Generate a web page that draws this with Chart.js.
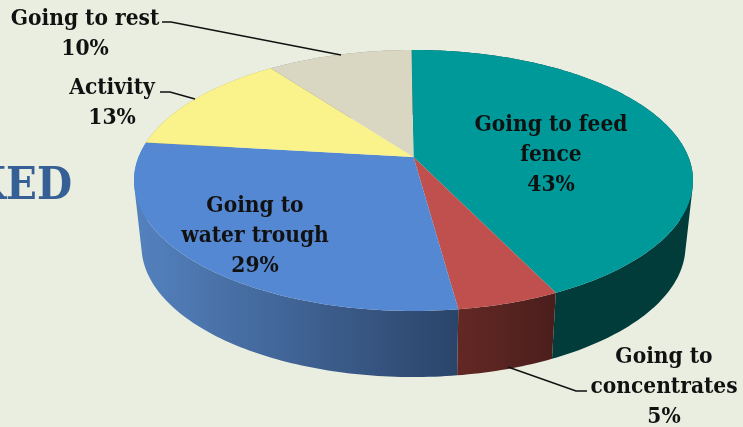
<!DOCTYPE html>
<html>
<head>
<meta charset="utf-8">
<title>Time budget pie</title>
<script src="https://cdn.jsdelivr.net/npm/chart.js@4"></script>
<style>
    html, body { margin: 0; padding: 0; background: #e9eee0; overflow: hidden; }
    canvas { display: block; }
</style>
</head>
<body>
<canvas id="budgetChart" width="743" height="427"></canvas>
<script>
const categories = ['Going to feed fence', 'Going to concentrates', 'Going to water trough', 'Activity', 'Going to rest'];
const shares = [43, 5, 29, 13, 10];
const topColors = ['#009999', '#bf504d', '#5588d2', '#faf28a', '#d9d6c2'];
const wallColors = [['#023c3b', '#013b3a'], ['#642824', '#4a1e1c'], ['#5482bf', '#2b4469'], ['#a8a25c', '#a8a25c'], ['#8f8d7f', '#8f8d7f']];

// Text blocks around the pie: wrapped name lines, centre x and the first baseline
const labelLines = [['Going to feed', 'fence'], ['Going to', 'concentrates'], ['Going to', 'water trough'], ['Activity'], ['Going to rest']];
const labelAnchors = [[551, 131], [664, 363], [255, 212], [112, 94], [85, 25]];
const leaders = [null, [[508, 367], [576, 391], [587, 391]], null, [[160, 92], [170, 92], [195, 99]], [[162, 22], [171, 22], [341, 55]]];

const labelFont = 'bold 22.5px "DejaVu Serif Condensed", "DejaVu Serif", serif';
const lineStep = 30;

// Tilted disc: ellipse radii relative to the chart radius, apex pulled toward the back
const tilt = -0.18;
const topScaleX = 1.5485, topScaleY = 0.723;
const baseScaleX = 1.507, baseScaleY = 0.726, baseDrop = 65.5;
const curveStep = Math.PI / 180;

// Perspective map of a point on the unit disc; the rim stays on the rim
function project(ux, uy) {
    const w = 1 + tilt * uy;
    return [ux * Math.sqrt(1 - tilt * tilt) / w, (uy + tilt) / w];
}

function rimPoint(arc, angle, scaleX, scaleY, drop) {
    const p = project(Math.cos(angle), Math.sin(angle));
    return [arc.x + arc.outerRadius * scaleX * p[0], arc.y + drop + arc.outerRadius * scaleY * p[1]];
}

function sweep(start, end) {
    const list = [];
    for (let a = start; a < end; a += curveStep) list.push(a);
    list.push(end);
    return list;
}

// Adds a quad to the current path, always wound the same way so overlaps don't cancel
function addQuad(ctx, quad) {
    let area = 0;
    quad.forEach((p, k) => {
        const q = quad[(k + 1) % 4];
        area += p[0] * q[1] - q[0] * p[1];
    });
    const pts = area < 0 ? quad.slice().reverse() : quad;
    ctx.moveTo(pts[0][0], pts[0][1]);
    pts.slice(1).forEach(p => ctx.lineTo(p[0], p[1]));
    ctx.closePath();
}

const tiltedPie = {
    id: 'tiltedPie',
    beforeDatasetDraw(chart) {
        const ctx = chart.ctx;
        const arcs = chart.getDatasetMeta(0).data.map(el => el.getProps(['x', 'y', 'startAngle', 'endAngle', 'outerRadius'], true));

        // side walls first, the top faces cover whatever sits behind them
        arcs.forEach((arc, i) => {
            const angles = sweep(arc.startAngle, arc.endAngle);
            const top = angles.map(a => rimPoint(arc, a, topScaleX, topScaleY, 0));
            const base = angles.map(a => rimPoint(arc, a, baseScaleX, baseScaleY, baseDrop));
            const xs = top.concat(base).map(p => p[0]);
            const grad = ctx.createLinearGradient(Math.min(...xs), 0, Math.max(...xs), 0);
            grad.addColorStop(0, wallColors[i][0]);
            grad.addColorStop(1, wallColors[i][1]);
            ctx.fillStyle = grad;
            // all quads in one path: the silhouette follows the widest rim points, no seams
            ctx.beginPath();
            for (let k = 0; k < angles.length - 1; k++) {
                addQuad(ctx, [top[k], top[k + 1], base[k + 1], base[k]]);
            }
            ctx.fill();
        });

        arcs.forEach((arc, i) => {
            const apex = project(0, 0);
            ctx.fillStyle = topColors[i];
            ctx.beginPath();
            ctx.moveTo(arc.x + arc.outerRadius * topScaleX * apex[0], arc.y + arc.outerRadius * topScaleY * apex[1]);
            sweep(arc.startAngle, arc.endAngle).forEach(a => {
                const p = rimPoint(arc, a, topScaleX, topScaleY, 0);
                ctx.lineTo(p[0], p[1]);
            });
            ctx.closePath();
            ctx.fill();
        });
        return false;
    },
    afterDraw(chart) {
        const ctx = chart.ctx;
        ctx.save();

        // slide heading running off the left edge
        ctx.fillStyle = '#355f95';
        ctx.font = 'bold 45px "DejaVu Serif Condensed", "DejaVu Serif", serif';
        ctx.textAlign = 'right';
        ctx.fillText('KED', 72, 199);

        ctx.strokeStyle = '#111';
        ctx.lineWidth = 1.5;
        leaders.forEach(points => {
            if (!points) return;
            ctx.beginPath();
            points.forEach((p, k) => k ? ctx.lineTo(p[0], p[1]) : ctx.moveTo(p[0], p[1]));
            ctx.stroke();
        });

        ctx.fillStyle = '#111';
        ctx.font = labelFont;
        ctx.textAlign = 'center';
        categories.forEach((name, i) => {
            const lines = labelLines[i].concat(shares[i] + '%');
            lines.forEach((line, k) => {
                ctx.fillText(line, labelAnchors[i][0], labelAnchors[i][1] + k * lineStep);
            });
        });
        ctx.restore();
    }
};

new Chart(document.getElementById('budgetChart').getContext('2d'), {
    type: 'pie',
    data: {
        labels: categories,
        datasets: [{ data: shares, backgroundColor: topColors, borderWidth: 0 }]
    },
    options: {
        responsive: false,
        animation: false,
        rotation: -0.5,
        layout: { padding: { left: 84, bottom: 66 } },
        plugins: { legend: { display: false }, tooltip: { enabled: false } }
    },
    plugins: [tiltedPie]
});
</script>
</body>
</html>
